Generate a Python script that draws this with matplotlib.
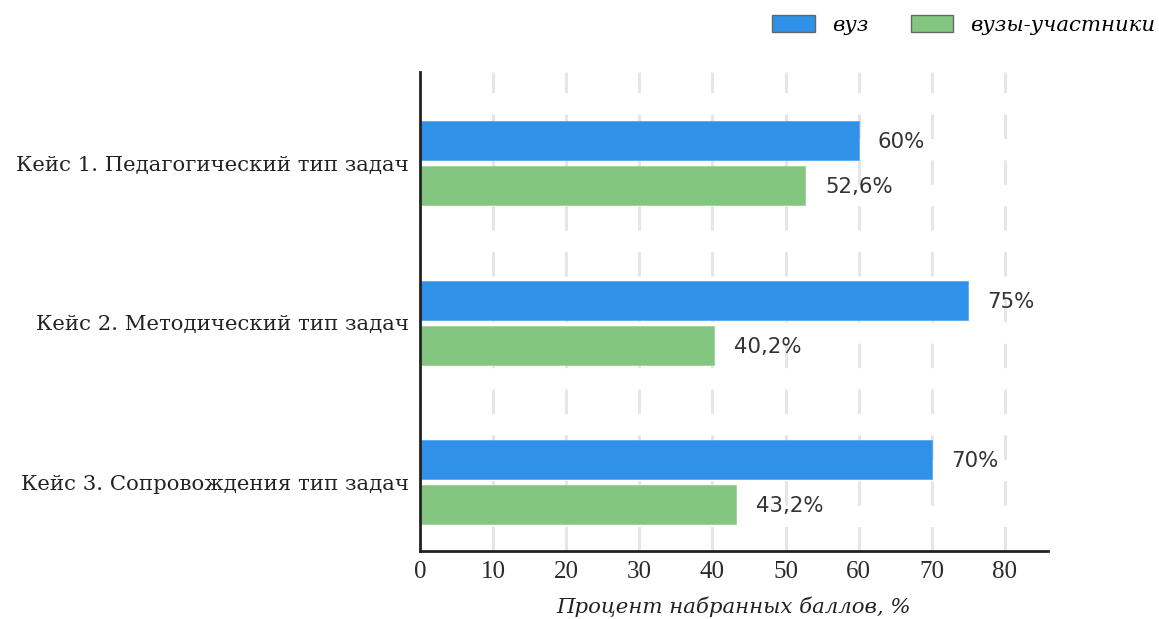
import numpy as np
import matplotlib.pyplot as plt
from matplotlib.patches import Patch

categories = ["Кейс 1. Педагогический тип задач",
              "Кейс 2. Методический тип задач",
              "Кейс 3. Сопровождения тип задач"]
vuz = [60, 75, 70]
participants = [52.6, 40.2, 43.2]
vuz_labels = ["60%", "75%", "70%"]
part_labels = ["52,6%", "40,2%", "43,2%"]
series_names = ["вуз", "вузы-участники"]

blue = "#2f92e8"
green = "#83c67f"
fs = 15.3

fig = plt.figure(figsize=(11.59, 6.19), dpi=100)
ax = fig.add_axes([420 / 1159, 1 - 551 / 619, 628 / 1159, 479 / 619])

y = np.arange(len(categories))
h = 0.245
off = 0.141
ax.barh(y - off, vuz, height=h, color=blue, edgecolor="#5aa9ee", linewidth=0.6, zorder=2)
ax.barh(y + off, participants, height=h, color=green, edgecolor="#9ed29b", linewidth=0.6, zorder=2)

# подписи значений справа от столбцов
for yi, v, t in zip(y, vuz, vuz_labels):
    ax.text(v + 2.6, yi - off + 0.01, t, va="center", ha="left", fontsize=fs,
            color="#333333", family="DejaVu Sans")
for yi, v, t in zip(y, participants, part_labels):
    ax.text(v + 2.8, yi + off + 0.01, t, va="center", ha="left", fontsize=fs,
            color="#333333", family="DejaVu Sans")

ax.set_xlim(0, 85.9)
ax.set_ylim(2.43, -0.57)
ax.set_xticks(range(0, 81, 10))
ax.set_yticks(y)
ax.set_yticklabels(categories, family="DejaVu Serif", fontsize=fs, color="#222222")
for lab in ax.get_xticklabels():
    lab.set_family("Liberation Serif")
    lab.set_fontsize(18)
    lab.set_color("#2a2a2a")
ax.tick_params(axis="x", length=0, pad=7)
ax.tick_params(axis="y", length=0, pad=8)

ax.xaxis.grid(True, color="#e6e6e6", linewidth=2.2, linestyle=(0, (8, 7)), zorder=0)
ax.set_axisbelow(True)
for s in ["top", "right"]:
    ax.spines[s].set_visible(False)
for s in ["left", "bottom"]:
    ax.spines[s].set_linewidth(2)
    ax.spines[s].set_color("#222222")

ax.set_xlabel("Процент набранных баллов, %", family="DejaVu Serif", style="italic",
              fontsize=fs, color="#222222", labelpad=10)

handles = [Patch(facecolor=blue, edgecolor="#666666", linewidth=1),
           Patch(facecolor=green, edgecolor="#666666", linewidth=1)]
fig.legend(handles, series_names, loc="center right", bbox_to_anchor=(1155 / 1159, 1 - 25 / 619),
           ncol=2, frameon=False, handlelength=2.0, handleheight=0.8,
           columnspacing=2.0, handletextpad=0.8, borderaxespad=0, borderpad=0,
           prop={"family": "DejaVu Serif", "style": "italic", "size": fs})

fig.savefig("out.png", dpi=100)
